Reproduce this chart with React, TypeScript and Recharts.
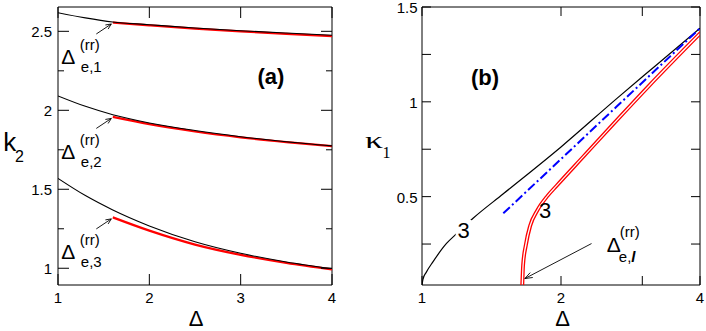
import React from "react";
import { LineChart, Line, XAxis, YAxis, ReferenceDot, ReferenceArea } from "recharts";

// panel (a): k2 against Delta
const deltaA = [1, 1.3, 1.6, 2, 2.5, 3, 3.5, 4];
const k2Black1 = [2.618, 2.585, 2.559, 2.542, 2.521, 2.504, 2.489, 2.475];
const k2Black2 = [2.091, 2.025, 1.972, 1.92, 1.872, 1.833, 1.801, 1.775];
const k2Black3 = [1.569, 1.46, 1.369, 1.268, 1.168, 1.095, 1.04, 0.998];
const deltaRedA = [1.6, 2, 2.5, 3, 3.5, 4];
const k2Red1 = [2.556, 2.538, 2.517, 2.5, 2.484, 2.47];
const k2Red2 = [1.958, 1.912, 1.866, 1.829, 1.799, 1.773];
const k2Red3 = [1.322, 1.238, 1.15, 1.085, 1.034, 0.993];
const xTicksA = [1, 2, 3, 4];
const yTicksA = [1, 1.25, 1.5, 1.75, 2, 2.25, 2.5];
const yLabelsA = [1, 1.5, 2, 2.5];

// panel (b): kappa1 against Delta (log axis)
const deltaBlack = [1, 1.005, 1.022, 1.056, 1.13, 1.19, 1.29, 1.5, 2, 2.64, 3.2, 4];
const kappaBlack = [0.034, 0.065, 0.102, 0.156, 0.253, 0.306, 0.386, 0.515, 0.762, 1.017, 1.189, 1.388];
const deltaBlue = [1.5, 2, 2.64, 3.2, 4];
const kappaBlue = [0.412, 0.698, 0.975, 1.166, 1.388];
const deltaRedOuter = [1.638, 1.645, 1.667, 1.705, 1.766, 1.861, 1.946, 2.232, 2.586, 3.086, 4];
const kappaRedOuter = [0.034, 0.139, 0.245, 0.35, 0.429, 0.508, 0.561, 0.719, 0.888, 1.089, 1.37];
const deltaRedInner = [1.66, 1.666, 1.689, 1.726, 1.785, 1.879, 1.964, 2.253, 2.61, 3.116, 4];
const kappaRedInner = [0.034, 0.138, 0.242, 0.345, 0.422, 0.5, 0.552, 0.71, 0.879, 1.079, 1.35];
const xTicksB = [1, 2, 3, 4];
const xLabelsB = [1, 2, 4];
const yTicksB = [0.25, 0.5, 0.75, 1, 1.25, 1.5];
const yLabelsB = [0.5, 1, 1.5];

const pts = (xs: number[], ys: number[]) => xs.map((x, i) => ({ x, y: ys[i] }));

const SANS = "Liberation Sans, Arial, sans-serif";
const SERIF = "Liberation Serif, Times New Roman, serif";

const PLOT_H = 278;

const arrowHead = (x1: number, y1: number, x2: number, y2: number, size = 7, ang = 0.42) => {
  const a = Math.atan2(y2 - y1, x2 - x1);
  const p1 = [x2 - size * Math.cos(a - ang), y2 - size * Math.sin(a - ang)];
  const p2 = [x2 - size * Math.cos(a + ang), y2 - size * Math.sin(a + ang)];
  return `${p1[0]},${p1[1]} ${x2},${y2} ${p2[0]},${p2[1]}`;
};

const bottomTick = (plotH: number, labels: number[], len: number) => (p: any) => {
  const { x, y } = p;
  const v = p.payload.value;
  return (
    <g>
      <line x1={x} y1={y} x2={x} y2={y - len} stroke="#000" />
      <line x1={x} y1={y - plotH} x2={x} y2={y - plotH + len} stroke="#000" />
      {labels.includes(v) && (
        <text x={x} y={y + 18} textAnchor="middle" fontSize={15} fontFamily={SANS} fill="#000">
          {String(v)}
        </text>
      )}
    </g>
  );
};

const leftTick = (plotW: number, labels: number[], len: number, minorLen: number, gap: number, dy: number) => (p: any) => {
  const { x, y } = p;
  const v = p.payload.value;
  const L = labels.includes(v) ? len : minorLen;
  return (
    <g>
      <line x1={x} y1={y} x2={x + L} y2={y} stroke="#000" />
      <line x1={x + plotW} y1={y} x2={x + plotW - L} y2={y} stroke="#000" />
      {labels.includes(v) && (
        <text x={x - gap} y={y + dy} textAnchor="end" fontSize={15} fontFamily={SANS} fill="#000">
          {String(v)}
        </text>
      )}
    </g>
  );
};

const rrLabelA = (n: string) => (p: any) => {
  const { cx, cy } = p;
  const tx = cx - 16.5, ty = cy + 11.5, hx = cx - 1.5, hy = cy + 1.5;
  return (
    <g fontFamily={SANS} fill="#000">
      <line x1={tx} y1={ty} x2={hx} y2={hy} stroke="#000" strokeWidth={0.9} />
      <polyline points={arrowHead(tx, ty, hx, hy, 6)} fill="none" stroke="#000" strokeWidth={0.9} />
      <text x={cx - 51.5} y={cy + 42} fontSize={21}>Δ</text>
      <text x={cx - 33} y={cy + 28} fontSize={15}>(rr)</text>
      <text x={cx - 32} y={cy + 50} fontSize={15}>e,{n}</text>
    </g>
  );
};

const rrLabelB = (p: any) => {
  const { cx, cy } = p;
  const tx = cx + 66.7, ty = cy - 35;
  return (
    <g fontFamily={SANS} fill="#000">
      <line x1={tx} y1={ty} x2={cx} y2={cy} stroke="#000" strokeWidth={0.9} />
      <polyline points={arrowHead(tx, ty, cx, cy, 8, 0.35)} fill="none" stroke="#000" strokeWidth={0.9} />
      <text x={cx + 82} y={cy - 27} fontSize={21}>Δ</text>
      <text x={cx + 95} y={cy - 42} fontSize={15}>(rr)</text>
      <text x={cx + 94} y={cy - 17} fontSize={15}>
        e,<tspan fontStyle="italic" fontWeight="bold">l</tspan>
      </text>
    </g>
  );
};

const threeLabel = (blank: boolean) => (p: any) => {
  const { cx, cy } = p;
  return (
    <g>
      {blank && <rect x={cx - 8} y={cy - 10} width={16} height={20} fill="#fff" />}
      <text x={cx} y={cy + 7.8} textAnchor="middle" fontSize={22} fontFamily={SANS} fill="#000">3</text>
    </g>
  );
};

const PanelA = () => (
  <LineChart width={345} height={331} margin={{ top: 7, right: 13, bottom: 16, left: 0 }}>
    <XAxis
      dataKey="x"
      type="number"
      domain={[1, 4]}
      ticks={xTicksA}
      interval={0}
      allowDataOverflow
      axisLine={false}
      tickLine={false}
      tickSize={0}
      tickMargin={0}
      height={30}
      tick={bottomTick(PLOT_H, xTicksA, 11)}
    />
    <YAxis
      type="number"
      domain={[0.894, 2.654]}
      ticks={yTicksA}
      interval={0}
      allowDataOverflow
      axisLine={false}
      tickLine={false}
      tickSize={0}
      tickMargin={0}
      width={58}
      tick={leftTick(274, yLabelsA, 11, 6, 6, 5.3)}
    />
    <ReferenceArea x1={1} x2={4} y1={0.894} y2={2.654} fill="none" stroke="#000" strokeWidth={1} />
    <Line data={pts(deltaRedA, k2Red1)} dataKey="y" type="monotone" stroke="#ff0000" strokeWidth={2.2} dot={false} isAnimationActive={false} />
    <Line data={pts(deltaRedA, k2Red2)} dataKey="y" type="monotone" stroke="#ff0000" strokeWidth={2.2} dot={false} isAnimationActive={false} />
    <Line data={pts(deltaRedA, k2Red3)} dataKey="y" type="monotone" stroke="#ff0000" strokeWidth={2.2} dot={false} isAnimationActive={false} />
    <Line data={pts(deltaA, k2Black1)} dataKey="y" type="monotone" stroke="#000" strokeWidth={1.1} dot={false} isAnimationActive={false} />
    <Line data={pts(deltaA, k2Black2)} dataKey="y" type="monotone" stroke="#000" strokeWidth={1.1} dot={false} isAnimationActive={false} />
    <Line data={pts(deltaA, k2Black3)} dataKey="y" type="monotone" stroke="#000" strokeWidth={1.1} dot={false} isAnimationActive={false} />
    <ReferenceDot x={deltaRedA[0]} y={k2Red1[0]} r={0} shape={rrLabelA("1")} />
    <ReferenceDot x={deltaRedA[0]} y={k2Red2[0]} r={0} shape={rrLabelA("2")} />
    <ReferenceDot x={deltaRedA[0]} y={k2Red3[0]} r={0} shape={rrLabelA("3")} />
  </LineChart>
);

const PanelB = () => (
  <LineChart width={356} height={331} margin={{ top: 7, right: 6, bottom: 16, left: 0 }}>
    <XAxis
      dataKey="x"
      type="number"
      scale="log"
      domain={[1, 4]}
      ticks={xTicksB}
      interval={0}
      allowDataOverflow
      axisLine={false}
      tickLine={false}
      tickSize={0}
      tickMargin={0}
      height={30}
      tick={bottomTick(PLOT_H, xLabelsB, 9)}
    />
    <YAxis
      type="number"
      domain={[0.034, 1.5]}
      ticks={yTicksB}
      interval={0}
      allowDataOverflow
      axisLine={false}
      tickLine={false}
      tickSize={0}
      tickMargin={0}
      width={72}
      tick={leftTick(278, yLabelsB, 9, 9, 4.5, 6.3)}
    />
    <ReferenceArea x1={1} x2={4} y1={0.034} y2={1.5} fill="none" stroke="#000" strokeWidth={1} />
    <Line data={pts(deltaBlack, kappaBlack)} dataKey="y" type="monotone" stroke="#000" strokeWidth={1.2} dot={false} isAnimationActive={false} />
    <Line data={pts(deltaBlue, kappaBlue)} dataKey="y" type="monotone" stroke="#0000ff" strokeWidth={2} strokeDasharray="9 3 2 3" dot={false} isAnimationActive={false} />
    <Line data={pts(deltaRedOuter, kappaRedOuter)} dataKey="y" type="monotone" stroke="#ff0000" strokeWidth={1.3} dot={false} isAnimationActive={false} />
    <Line data={pts(deltaRedInner, kappaRedInner)} dataKey="y" type="monotone" stroke="#ff0000" strokeWidth={1.3} dot={false} isAnimationActive={false} />
    <ReferenceDot x={1.231} y={0.324} r={0} shape={threeLabel(true)} />
    <ReferenceDot x={1.848} y={0.43} r={0} shape={threeLabel(false)} />
    <ReferenceDot x={1.67} y={0.068} r={0} shape={rrLabelB} />
  </LineChart>
);

export default function App() {
  return (
    <div style={{ position: "absolute", left: 0, top: 0, width: 706, height: 331, background: "#fff" }}>
      <div style={{ position: "absolute", left: 0, top: 0 }}>
        <PanelA />
      </div>
      <div style={{ position: "absolute", left: 350, top: 0 }}>
        <PanelB />
      </div>
      <svg width={706} height={331} style={{ position: "absolute", left: 0, top: 0, pointerEvents: "none" }}>
        <text x={3.3} y={150.7} fontSize={26} fontFamily={SANS}>k</text>
        <text x={15} y={161.7} fontSize={16} fontFamily={SANS}>2</text>
        <text x={196} y={326.3} fontSize={22} fontFamily={SANS} textAnchor="middle">Δ</text>
        <text x={271} y={84} fontSize={22} fontWeight="bold" fontFamily={SANS} textAnchor="middle">(a)</text>
        <text x={365} y={148} fontSize={24} fontFamily={SERIF} textLength={18} lengthAdjust="spacingAndGlyphs">κ</text>
        <text x={382.5} y={158.3} fontSize={16} fontFamily={SERIF}>1</text>
        <text x={562.5} y={326.3} fontSize={22} fontFamily={SANS} textAnchor="middle">Δ</text>
        <text x={485} y={85} fontSize={22} fontWeight="bold" fontFamily={SANS} textAnchor="middle">(b)</text>
      </svg>
    </div>
  );
}
